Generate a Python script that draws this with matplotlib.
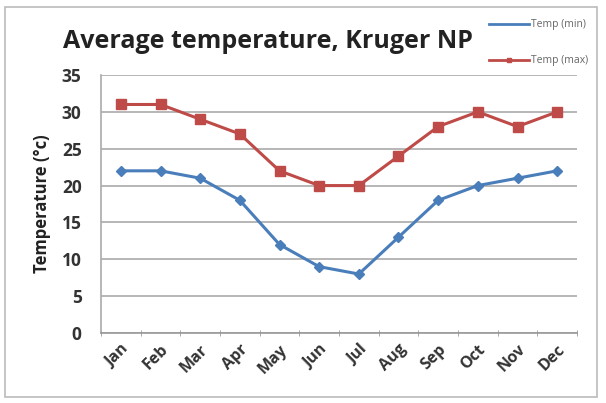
import matplotlib
matplotlib.use("Agg")
from matplotlib import pyplot as plt
from matplotlib.patches import Rectangle
from matplotlib.lines import Line2D

months = ["Jan", "Feb", "Mar", "Apr", "May", "Jun",
          "Jul", "Aug", "Sep", "Oct", "Nov", "Dec"]
temp_min = [22, 22, 21, 18, 12, 9, 8, 13, 18, 20, 21, 22]
temp_max = [31, 31, 29, 27, 22, 20, 20, 24, 28, 30, 28, 30]
y_ticks = [0, 5, 10, 15, 20, 25, 30, 35]

blue = "#4A7EBB"
red = "#BE4B48"
plt.rcParams["font.family"] = ["Open Sans", "DejaVu Sans"]

fig = plt.figure(figsize=(6.06, 4.03), dpi=100)
fig.patches.append(Rectangle((5 / 606, 6 / 403), 592 / 606, 390 / 403,
                             transform=fig.transFigure, fill=False,
                             edgecolor="#bbbbbb", linewidth=1.2))

ax = fig.add_axes([101 / 606, 1 - 333 / 403, 476 / 606, 258 / 403])
x = list(range(len(months)))
ax.plot(x, temp_min, color=blue, linewidth=2.2, marker="D", markersize=5.5,
        label="Temp (min)")
ax.plot(x, temp_max, color=red, linewidth=2.2, marker="s", markersize=7,
        label="Temp (max)")

ax.set_xlim(-0.5, len(months) - 0.5)
ax.set_ylim(0, 35)
ax.set_yticks(y_ticks)
ax.set_yticklabels([str(v) for v in y_ticks], fontsize=12.5, fontweight="bold",
                   color="#333333")
ax.set_xticks(x)
ax.set_xticklabels(months, rotation=45, ha="right", rotation_mode="anchor",
                   fontsize=11.5, fontweight="bold", color="#333333")
ax.tick_params(axis="x", length=0, pad=6)
ax.tick_params(axis="y", length=0, pad=14)
# category boundary ticks like Excel
ax.set_xticks([i - 0.5 for i in range(len(months) + 1)], minor=True)
ax.tick_params(axis="x", which="minor", length=5, color="#999999", direction="inout")

ax.grid(axis="y", color="#aaaaaa", linewidth=1.2)
ax.set_axisbelow(True)
for s in ["top", "right"]:
    ax.spines[s].set_visible(False)
ax.spines["left"].set_color("#aaaaaa")
ax.spines["bottom"].set_color("#999999")
ax.spines["left"].set_linewidth(1.2)
ax.spines["bottom"].set_linewidth(1.2)

ax.set_ylabel("Temperature (°c)", fontsize=12, fontweight="bold", color="#222222",
              labelpad=8)
fig.text(268 / 606, 1 - 42 / 403, "Average temperature, Kruger NP", fontsize=18,
         fontweight="bold", color="#222222", ha="center", va="center")

handles = [Line2D([], [], color=blue, linewidth=2),
           Line2D([], [], color=red, linewidth=2, marker="s", markersize=3)]
fig.legend(handles, ["Temp (min)", "Temp (max)"], loc="upper left",
           bbox_to_anchor=(480 / 606, 1 - 10 / 403), frameon=False, fontsize=7.5,
           labelcolor="#666666", handlelength=3.8, handletextpad=0.2,
           labelspacing=2.4)

fig.savefig("out.png", dpi=100, facecolor="white")
